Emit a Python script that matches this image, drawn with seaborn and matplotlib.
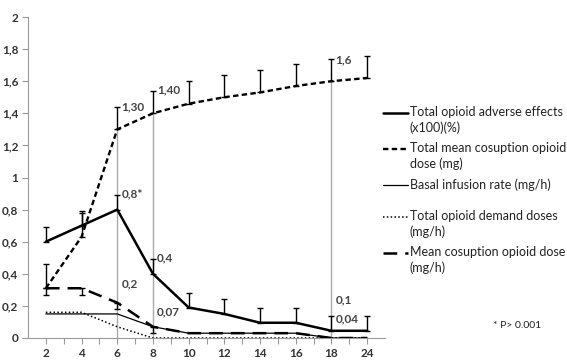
import numpy as np
import pandas as pd
import matplotlib
matplotlib.use('Agg')
import matplotlib.pyplot as plt
from matplotlib.lines import Line2D
import seaborn as sns

# values
hours = ['2', '4', '6', '8', '10', '12', '14', '16', '18', '24']
adverse = [0.60, 0.70, 0.80, 0.40, 0.19, 0.15, 0.095, 0.095, 0.045, 0.045]
adverse_err = [0.09, 0.09, 0.09, 0.09, 0.09, 0.09, 0.09, 0.09, 0.09, 0.09]
total_mean = [0.31, 0.63, 1.30, 1.40, 1.46, 1.50, 1.53, 1.57, 1.60, 1.62]
total_mean_err = [0.15, 0.15, 0.14, 0.14, 0.14, 0.14, 0.14, 0.14, 0.14, 0.14]
basal = [0.15, 0.15, 0.15, 0.07, 0.03, 0.03, 0.03, 0.03, 0.0, 0.0]
demand = [0.16, 0.16, 0.07, 0.0, 0.0, 0.0, 0.0, 0.0, 0.0, 0.0]
mean_dose = [0.31, 0.31, 0.22, 0.07, 0.03, 0.03, 0.03, 0.03, 0.0, 0.0]
mean_dose_err = [0.04, 0.04, 0.04, 0.04, 0, 0, 0, 0, 0, 0]

drop_hours = ['6', '8', '18']

labels = ['Total opioid adverse effects\n(x100)(%)',
          'Total mean cosuption opioid\ndose (mg)',
          'Basal infusion rate (mg/h)',
          'Total opioid demand doses\n(mg/h)',
          'Mean cosuption opioid dose\n(mg/h)']

# value labels: (hour, y, text)
value_labels = [('6', 1.44, '1,30'), ('8', 1.545, '1,40'), ('18', 1.73, '1,6'),
                ('6', 0.90, '0,8*'), ('8', 0.50, '0,4'), ('6', 0.34, '0,2'),
                ('8', 0.16, '0,07'), ('18', 0.24, '0,1'), ('18', 0.12, '0,04')]

sns.set_style('white')
plt.rcParams['font.family'] = ['Lato', 'DejaVu Sans']

pos = np.arange(len(hours))
df = pd.DataFrame({'pos': pos, 'adverse': adverse, 'total_mean': total_mean,
                   'basal': basal, 'demand': demand, 'mean_dose': mean_dose})

styles = {
    'adverse': dict(lw=1.8, ls='-'),
    'total_mean': dict(lw=1.7, ls=(0, (2.3, 1.4))),
    'basal': dict(lw=0.9, ls='-'),
    'demand': dict(lw=1.1, ls=(0, (1, 1.5))),
    'mean_dose': dict(lw=1.8, ls=(0, (5.5, 3.2))),
}

fig = plt.figure(figsize=(5.67, 3.6), dpi=100)
ax = fig.add_axes([28 / 567, 1 - 338 / 360, 357 / 567, 321 / 360])

# gray drop lines
hour_idx = {h: i for i, h in enumerate(hours)}
for h in drop_hours:
    i = hour_idx[h]
    ax.plot([pos[i], pos[i]], [0, total_mean[i]], color='#aaaaaa', lw=1, zorder=1)

for col in ['adverse', 'total_mean', 'basal', 'demand', 'mean_dose']:
    st = styles[col]
    sns.lineplot(data=df, x='pos', y=col, ax=ax, color='black',
                 linewidth=st['lw'], linestyle=st['ls'], zorder=3)

# error bars
ax.errorbar(pos, adverse, yerr=[np.zeros(len(pos)), adverse_err], fmt='none',
            ecolor='black', elinewidth=1, capsize=2.5, capthick=1, zorder=2)
ax.errorbar(pos, total_mean, yerr=[np.zeros(len(pos)), total_mean_err], fmt='none',
            ecolor='black', elinewidth=1, capsize=2.5, capthick=1, zorder=2)
m = np.array(mean_dose_err) > 0
ax.errorbar(pos[m], np.array(mean_dose)[m], yerr=[np.array(mean_dose_err)[m], np.zeros(m.sum())],
            fmt='none', ecolor='black', elinewidth=1, capsize=2.5, capthick=1, zorder=2)

for h, y, t in value_labels:
    ax.text(hour_idx[h] + 0.12, y, t, fontsize=8.5, color='#444444',
            va='center', ha='left', fontweight='bold')

ax.set_xlim(-0.5, len(hours) - 0.5)
ax.set_ylim(0, 2)
ax.set_xticks(pos)
ax.set_xticklabels(hours, fontsize=8.5, fontweight='bold', color='#333333')
ax.set_xticks(pos[:-1] + 0.5, minor=True)
yt = np.arange(0, 2.01, 0.2)
ax.set_yticks(yt)
ax.set_yticklabels([f'{v:g}'.replace('.', ',') for v in np.round(yt, 1)],
                   fontsize=8.5, fontweight='bold', color='#333333')
ax.tick_params(axis='both', which='both', direction='out', length=4, width=0.8,
               color='#999999', pad=3, left=True, bottom=True)
ax.set_xlabel('')
ax.set_ylabel('')
sns.despine(ax=ax)
for s in ['left', 'bottom']:
    ax.spines[s].set_color('#999999')
    ax.spines[s].set_linewidth(0.8)

# legend drawn by hand so the handle sits on the first text line
leg_y = [113, 149, 185, 217, 253]
for col, lab, y in zip(['adverse', 'total_mean', 'basal', 'demand', 'mean_dose'], labels, leg_y):
    st = styles[col]
    yf = 1 - y / 360
    fig.add_artist(Line2D([383 / 567, 408 / 567], [yf, yf], color='black',
                          lw=st['lw'], ls=st['ls'], transform=fig.transFigure))
    fig.text(410 / 567, yf + 6.5 / 360, lab, fontsize=9, va='top', ha='left',
             color='#222222', linespacing=1.3)

fig.text(517 / 567, 1 - 326 / 360, '* P> 0.001', fontsize=7.5, ha='center',
         va='center', color='#222222')

fig.savefig('out.png', dpi=100)
